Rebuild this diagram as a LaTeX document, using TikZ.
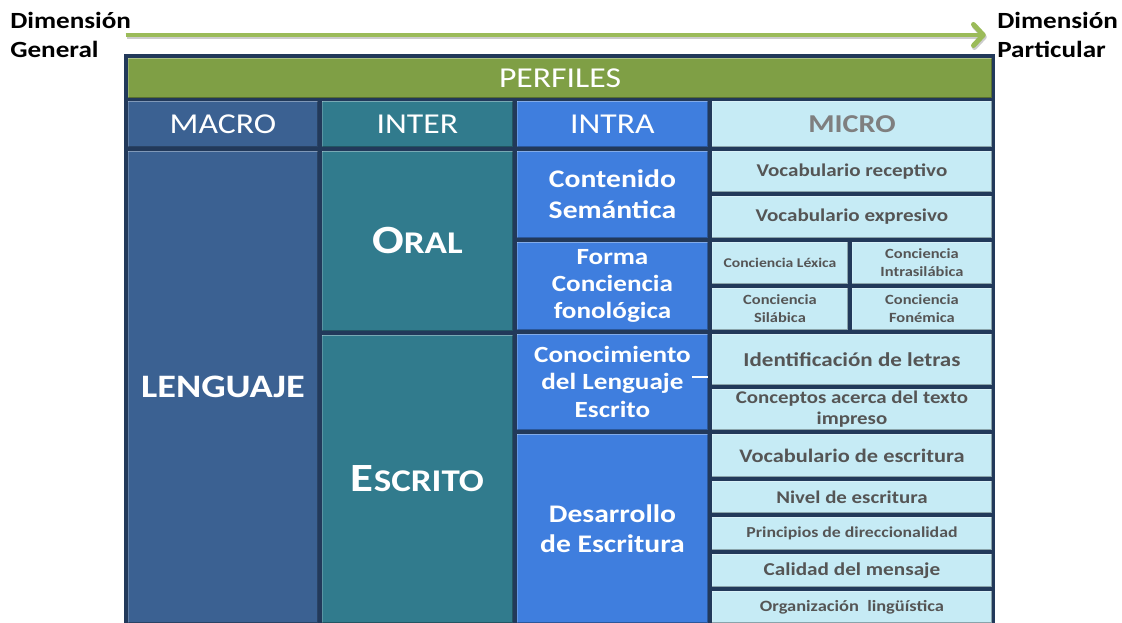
\documentclass[tikz,border=0pt]{standalone}
\usepackage{fontspec}
\setmainfont{Carlito}[FakeStretch=1.17]
\usetikzlibrary{arrows.meta}

\definecolor{perfilGreen}{HTML}{7F9F45}
\definecolor{macroBlue}{HTML}{3B6192}
\definecolor{interTeal}{HTML}{317B8D}
\definecolor{intraBlue}{HTML}{3F7EDE}
\definecolor{microCyan}{HTML}{C6EBF5}
\definecolor{microText}{HTML}{555555}
\definecolor{microHead}{HTML}{7F7F7F}
\definecolor{frameNavy}{HTML}{22395A}
\definecolor{arrowGreen}{HTML}{9BBB59}

% one pixel of the reference
\def\pxu{0.7113pt}
\def\cell[#1](#2)(#3,#4)(#5,#6)#7{\node[#1, anchor=north west, minimum width={(#5-#3)*\pxu}, minimum height={(#6-#4)*\pxu}] (#2) at (#3,#4) {#7};}
\def\fsz#1#2{\fontsize{#1}{#2}\selectfont}

\tikzset{
	cellbox/.style={rectangle, draw=frameNavy, line width=0.6pt, inner sep=1pt, align=center,
		path picture={
			\draw[white, opacity=0.35, line width=2.2pt] (path picture bounding box.north west) -- (path picture bounding box.north east);
			\draw[white, opacity=0.2, line width=1.6pt] (path picture bounding box.north west) -- (path picture bounding box.south west);
			\draw[black, opacity=0.3, line width=2pt] (path picture bounding box.south west) -- (path picture bounding box.south east) -- (path picture bounding box.north east);
		}},
	perfbox/.style={cellbox, fill=perfilGreen, text=white, font=\fsz{20.5}{24}},
	macrobox/.style={cellbox, fill=macroBlue, text=white},
	interbox/.style={cellbox, fill=interTeal, text=white},
	intrabox/.style={cellbox, fill=intraBlue, text=white},
	microbox/.style={cellbox, fill=microCyan, text=microText, font=\bfseries},
	dimlabel/.style={inner sep=0pt, align=left, font=\bfseries\fsz{16.5}{20}},
	dimarrow/.style={draw=arrowGreen, line width=3.5pt, -{Straight Barb[length=7pt, width=15pt, line cap=round, line join=round]}},
}

\begin{document}
\begin{tikzpicture}[x=0.025cm, y=-0.025cm]
			%%%%% START %%%%%
			\useasboundingbox (0,0) rectangle (1122,623);
			
			% labels and arrow
			\node[dimlabel, anchor=west] (gen) at (10,35) {Dimensión\\General};
			\node[dimlabel, anchor=west] (par) at (997,35) {Dimensión\\Particular};
			\draw[dimarrow, draw=black!20, transform canvas={shift={(1,2)}}, shorten <=-4pt, shorten >=8pt] (gen.east) -- (par.west);
			\draw[dimarrow, shorten <=-4pt, shorten >=8pt] (gen.east) -- (par.west);
			
			% frame
			\fill[frameNavy] (124,54) rectangle (995,630);
			
			\cell[perfbox](perf)(127,57)(992,98){PERFILES}
			
			% header row
			\cell[macrobox, font=\fsz{20.5}{24}](hmacro)(127,100)(318,147){MACRO}
			\cell[interbox, font=\fsz{20.5}{24}](hinter)(321,100)(513,147){INTER}
			\cell[intrabox, font=\fsz{20.5}{24}](hintra)(516,100)(708,147){INTRA}
			\cell[microbox, text=microHead, font=\bfseries\fsz{18.3}{22}](hmicro)(711,100)(992,147){MICRO}
			
			% macro and inter
			\cell[macrobox, font=\bfseries\fsz{23.3}{28}](leng)(127,150)(318,623){LENGUAJE}
			\cell[interbox, font=\bfseries](oral)(321,150)(513,331){{\fsz{28.5}{30}O}{\fsz{22.5}{30}RAL}}
			\cell[interbox, font=\bfseries](escr)(321,334)(513,623){{\fsz{28.5}{30}E}{\fsz{22.5}{30}SCRITO}}
			
			% intra
			\cell[intrabox, font=\bfseries\fsz{18}{22}](cont)(516,150)(708,238){Contenido\\Semántica}
			\cell[intrabox, font=\bfseries\fsz{16.5}{19.5}](forma)(516,241)(708,330){Forma\\Conciencia\\fonológica}
			\cell[intrabox, font=\bfseries\fsz{16.5}{19.5}](conoc)(516,333)(708,430){Conocimiento\\del Lenguaje\\Escrito}
			\cell[intrabox, font=\bfseries\fsz{18}{21.5}](desa)(516,433)(708,623){Desarrollo\\de Escritura}
			\draw[white, line width=1.2pt] (692,377) -- (708,377);
			
			% micro
			\cell[microbox, font=\bfseries\fsz{12.8}{15}](vrec)(711,150)(992,192){Vocabulario receptivo}
			\cell[microbox, font=\bfseries\fsz{12.8}{15}](vexp)(711,195)(992,238){Vocabulario expresivo}
			\cell[microbox, font=\bfseries\fsz{9.5}{12.8}](clex)(711,241)(848,284){Conciencia Léxica}
			\cell[microbox, font=\bfseries\fsz{10}{12.8}](cintra)(851,241)(992,284){Conciencia\\Intrasilábica}
			\cell[microbox, font=\bfseries\fsz{10}{12.8}](csil)(711,287)(848,330){Conciencia\\Silábica}
			\cell[microbox, font=\bfseries\fsz{10}{12.8}](cfon)(851,287)(992,330){Conciencia\\Fonémica}
			\cell[microbox, font=\bfseries\fsz{14}{16}](ident)(711,333)(992,385){Identificación de letras}
			\cell[microbox, font=\bfseries\fsz{12.7}{15}](conc)(711,388)(992,430){Conceptos acerca del texto\\impreso}
			\cell[microbox, font=\bfseries\fsz{13.6}{16}](vesc)(711,433)(992,477){Vocabulario de escritura}
			\cell[microbox, font=\bfseries\fsz{12.7}{15}](nivel)(711,480)(992,513){Nivel de escritura}
			\cell[microbox, font=\bfseries\fsz{10.8}{13}](princ)(711,516)(992,550){Principios de direccionalidad}
			\cell[microbox, font=\bfseries\fsz{12.9}{15}](calid)(711,553)(992,587){Calidad del mensaje}
			\cell[microbox, font=\bfseries\fsz{11.2}{13}](organ)(711,590)(992,623){Organización\ \ lingüística}
			
			%%%%% END %%%%%
\end{tikzpicture}
\end{document}
